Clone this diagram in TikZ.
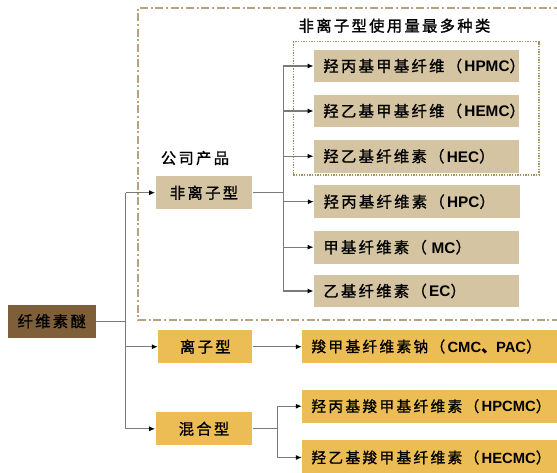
\documentclass[tikz,border=0pt]{standalone}
\usepackage{fontspec}
\setmainfont{Liberation Sans}
\newfontfamily\cjk[LetterSpace=15,FakeBold=1.2]{Noto Sans CJK SC}
\usetikzlibrary{arrows.meta}
\definecolor{tanbox}{HTML}{D4C4A1}
\definecolor{goldbox}{HTML}{EDBD55}
\definecolor{rootbox}{HTML}{7F5F39}
\definecolor{outerln}{HTML}{B8A281}
\definecolor{innerln}{HTML}{A88C64}
\definecolor{conn}{HTML}{7A7A7A}
\newcommand\mixlab[2]{{\cjk #1（}\textbf{#2}{\cjk ）}}
\begin{document}
\begin{tikzpicture}[x=0.75pt,y=-0.75pt,
  box/.style={draw=none,minimum height=24.5pt,inner sep=0pt,font=\fontsize{11.5}{13}\selectfont},
  leftbox/.style={box,align=center},
  rightbox/.style={box,fill=tanbox,minimum width=154pt,text width=140pt,align=left},
  widebox/.style={box,fill=goldbox,minimum width=191pt,text width=177.5pt,align=left,font=\fontsize{11.1}{13}\selectfont},
  conline/.style={draw=conn,line width=0.8pt},
  arr/.style={conline,-{Latex[length=4.5pt,width=3.8pt,color=black]},shorten >=0.2pt},
  lbl/.style={font=\fontsize{11.5}{13}\selectfont\cjk}
]
\useasboundingbox (0,0) rectangle (557,472);
% frames
\draw[draw=outerln,line width=1.1pt,dash pattern=on 6pt off 2pt on 1.5pt off 2pt]
  (562,8) -- (138,8) -- (138,320) -- (562,320);
\draw[draw=innerln,line width=0.9pt,dash pattern=on 1pt off 1pt] (293.3,41.7) rectangle (539,175);
% labels
\node[lbl] (title) at (394.5,25.7) {非离子型使用量最多种类};
\node[lbl] (company) at (195,158) {公司产品};
% left nodes
\node[leftbox,fill=rootbox,minimum width=66pt] (root) at (51.7,321.2) {\cjk 纤维素醚};
\node[leftbox,fill=tanbox,minimum width=72.5pt] (fei) at (204,192.7) {\cjk 非离子型};
\node[leftbox,fill=goldbox,minimum width=70.5pt] (li) at (205.3,346.7) {\cjk 离子型};
\node[leftbox,fill=goldbox,minimum width=72.5pt] (hun) at (204,428.8) {\cjk 混合型};
% right nodes
\node[rightbox] (hpmc) at (416.7,66) {\mixlab{羟丙基甲基纤维}{HPMC}};
\node[rightbox] (hemc) at (416.7,111) {\mixlab{羟乙基甲基纤维}{HEMC}};
\node[rightbox] (hec) at (416.7,156.2) {\mixlab{羟乙基纤维素}{HEC}};
\node[rightbox] (hpc) at (417,201.7) {\mixlab{羟丙基纤维素}{HPC}};
\node[rightbox] (mc) at (416.7,247.2) {\mixlab{甲基纤维素}{\,MC}};
\node[rightbox] (ec) at (416.7,291) {\mixlab{乙基纤维素}{EC}};
\node[widebox] (cmc) at (429.7,346.5) {\mixlab{羧甲基纤维素钠}{CMC{\cjk 、}PAC}};
\node[widebox] (hpcmc) at (429.7,406.2) {\mixlab{羟丙基羧甲基纤维素}{HPCMC}};
\node[widebox,minimum height=26pt] (hecmc) at (429.7,457.5) {\mixlab{羟乙基羧甲基纤维素}{HECMC}};
% connectors
\coordinate (tx) at (125.7,0);
\coordinate (bx) at (283.3,0);
\coordinate (cx) at (277.3,0);
\draw[conline] (root.east) -- (tx |- root.east);
\draw[conline] (tx |- fei.west) -- (tx |- hun.west);
\draw[arr] (tx |- fei.west) -- (fei.west);
\draw[arr] (tx |- li.west) -- (li.west);
\draw[arr] (tx |- hun.west) -- (hun.west);
\draw[conline] (fei.east) -- (bx |- fei.east);
\draw[conline] (bx |- hpmc.west) -- (bx |- ec.west);
\foreach \n in {hpmc,hemc,hec,hpc,mc,ec} \draw[arr] (bx |- \n.west) -- (\n.west);
\draw[arr] (li.east) -- (li.east -| cmc.west);
\draw[conline] (hun.east) -- (cx |- hun.east);
\draw[conline] (cx |- hpcmc.west) -- (cx |- hecmc.west);
\draw[arr] (cx |- hpcmc.west) -- (hpcmc.west);
\draw[arr] (cx |- hecmc.west) -- (hecmc.west);
\end{tikzpicture}
\end{document}
